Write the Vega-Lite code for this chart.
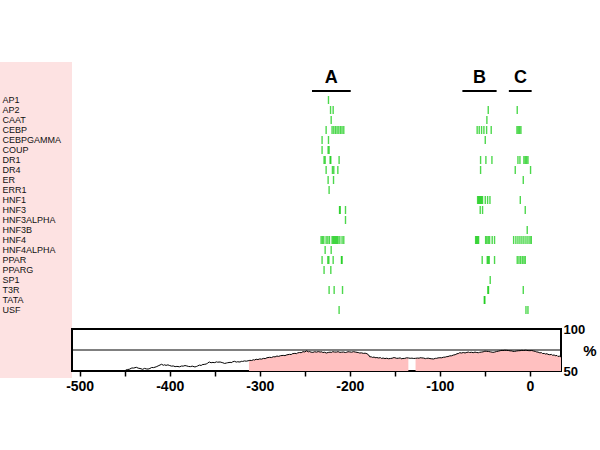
{
  "$schema": "https://vega.github.io/schema/vega-lite/v6.json",
  "padding": {"left": 0, "top": 62, "right": 0, "bottom": 0},
  "background": "white",
  "bounds": "flush",
  "spacing": 0,
  "config": {"font": "Liberation Sans", "view": {"stroke": null}},
  "datasets": {
    "abc": [
      {"label": "A", "xc": -220.5, "x1": -242, "x2": -199},
      {"label": "B", "xc": -56, "x1": -75, "x2": -37},
      {"label": "C", "xc": -10.5, "x1": -23.4, "x2": 1.9}
    ],
    "tfbs": [
      {"tf": "AP1", "pos": -223.7},
      {"tf": "AP2", "pos": -221.4}, {"tf": "AP2", "pos": -218.5}, {"tf": "AP2", "pos": -46.3}, {"tf": "AP2", "pos": -14.1},
      {"tf": "CAAT", "pos": -220.7}, {"tf": "CAAT", "pos": -47.8},
      {"tf": "CEBP", "pos": -226.3}, {"tf": "CEBP", "pos": -219.7}, {"tf": "CEBP", "pos": -217.8}, {"tf": "CEBP", "pos": -215.9}, {"tf": "CEBP", "pos": -214.1}, {"tf": "CEBP", "pos": -212.2}, {"tf": "CEBP", "pos": -210.3}, {"tf": "CEBP", "pos": -208.6}, {"tf": "CEBP", "pos": -206.7}, {"tf": "CEBP", "pos": -58.6}, {"tf": "CEBP", "pos": -56.3}, {"tf": "CEBP", "pos": -53.7}, {"tf": "CEBP", "pos": -51.1}, {"tf": "CEBP", "pos": -48.1}, {"tf": "CEBP", "pos": -43}, {"tf": "CEBP", "pos": -14.4}, {"tf": "CEBP", "pos": -13}, {"tf": "CEBP", "pos": -11.5}, {"tf": "CEBP", "pos": -10},
      {"tf": "CEBPGAMMA", "pos": -230.8}, {"tf": "CEBPGAMMA", "pos": -223.7}, {"tf": "CEBPGAMMA", "pos": -49.6},
      {"tf": "COUP", "pos": -230.8}, {"tf": "COUP", "pos": -224.1}, {"tf": "COUP", "pos": -223},
      {"tf": "DR1", "pos": -228.6}, {"tf": "DR1", "pos": -227.4}, {"tf": "DR1", "pos": -221.9}, {"tf": "DR1", "pos": -221.1}, {"tf": "DR1", "pos": -211.9}, {"tf": "DR1", "pos": -54.8}, {"tf": "DR1", "pos": -48.9}, {"tf": "DR1", "pos": -42.2}, {"tf": "DR1", "pos": -13.3}, {"tf": "DR1", "pos": -11.1}, {"tf": "DR1", "pos": -6.7}, {"tf": "DR1", "pos": -5.2}, {"tf": "DR1", "pos": -3.7}, {"tf": "DR1", "pos": -2.2},
      {"tf": "DR4", "pos": -226.3}, {"tf": "DR4", "pos": -219.3}, {"tf": "DR4", "pos": -217.8}, {"tf": "DR4", "pos": -213.3}, {"tf": "DR4", "pos": -54.8}, {"tf": "DR4", "pos": -16.3}, {"tf": "DR4", "pos": 0.7},
      {"tf": "ER", "pos": -224.1}, {"tf": "ER", "pos": -218.1}, {"tf": "ER", "pos": -7.4},
      {"tf": "ERR1", "pos": -223},
      {"tf": "HNF1", "pos": -58.1}, {"tf": "HNF1", "pos": -57}, {"tf": "HNF1", "pos": -55.9}, {"tf": "HNF1", "pos": -54.8}, {"tf": "HNF1", "pos": -53.7}, {"tf": "HNF1", "pos": -52.6}, {"tf": "HNF1", "pos": -49.6}, {"tf": "HNF1", "pos": -47}, {"tf": "HNF1", "pos": -44.4}, {"tf": "HNF1", "pos": -10.7},
      {"tf": "HNF3", "pos": -211.4}, {"tf": "HNF3", "pos": -210.7}, {"tf": "HNF3", "pos": -204.8}, {"tf": "HNF3", "pos": -55.2}, {"tf": "HNF3", "pos": -52.6}, {"tf": "HNF3", "pos": -5.2},
      {"tf": "HNF3ALPHA", "pos": -204.8},
      {"tf": "HNF3B", "pos": -3},
      {"tf": "HNF4", "pos": -231.9}, {"tf": "HNF4", "pos": -230.4}, {"tf": "HNF4", "pos": -228.9}, {"tf": "HNF4", "pos": -226.3}, {"tf": "HNF4", "pos": -224.4}, {"tf": "HNF4", "pos": -222.6}, {"tf": "HNF4", "pos": -219.7}, {"tf": "HNF4", "pos": -218.5}, {"tf": "HNF4", "pos": -217.4}, {"tf": "HNF4", "pos": -216.3}, {"tf": "HNF4", "pos": -215.2}, {"tf": "HNF4", "pos": -214.1}, {"tf": "HNF4", "pos": -213}, {"tf": "HNF4", "pos": -211.1}, {"tf": "HNF4", "pos": -208.6}, {"tf": "HNF4", "pos": -206.7}, {"tf": "HNF4", "pos": -60.3}, {"tf": "HNF4", "pos": -59.3}, {"tf": "HNF4", "pos": -58.1}, {"tf": "HNF4", "pos": -57}, {"tf": "HNF4", "pos": -49.2}, {"tf": "HNF4", "pos": -47.8}, {"tf": "HNF4", "pos": -46.3}, {"tf": "HNF4", "pos": -44.8}, {"tf": "HNF4", "pos": -41.9}, {"tf": "HNF4", "pos": -39.3}, {"tf": "HNF4", "pos": -18.1}, {"tf": "HNF4", "pos": -15.6}, {"tf": "HNF4", "pos": -13.3}, {"tf": "HNF4", "pos": -11.1}, {"tf": "HNF4", "pos": -8.9}, {"tf": "HNF4", "pos": -6.7}, {"tf": "HNF4", "pos": -4.4}, {"tf": "HNF4", "pos": -2.2}, {"tf": "HNF4", "pos": 0}, {"tf": "HNF4", "pos": 1.5},
      {"tf": "HNF4ALPHA", "pos": -227.4}, {"tf": "HNF4ALPHA", "pos": -220.7},
      {"tf": "PPAR", "pos": -230.8}, {"tf": "PPAR", "pos": -224.4}, {"tf": "PPAR", "pos": -223.3}, {"tf": "PPAR", "pos": -218.5}, {"tf": "PPAR", "pos": -209.3}, {"tf": "PPAR", "pos": -208.6}, {"tf": "PPAR", "pos": -53}, {"tf": "PPAR", "pos": -47.4}, {"tf": "PPAR", "pos": -46.3}, {"tf": "PPAR", "pos": -45.2}, {"tf": "PPAR", "pos": -39.3}, {"tf": "PPAR", "pos": -14.1}, {"tf": "PPAR", "pos": -12.2}, {"tf": "PPAR", "pos": -10.4}, {"tf": "PPAR", "pos": -8.5}, {"tf": "PPAR", "pos": -6.7}, {"tf": "PPAR", "pos": -5.2},
      {"tf": "PPARG", "pos": -228.6}, {"tf": "PPARG", "pos": -221.1},
      {"tf": "SP1", "pos": -44.1},
      {"tf": "T3R", "pos": -223}, {"tf": "T3R", "pos": -217.4}, {"tf": "T3R", "pos": -208.1}, {"tf": "T3R", "pos": -46.7}, {"tf": "T3R", "pos": -46}, {"tf": "T3R", "pos": -7.4},
      {"tf": "TATA", "pos": -50.7}, {"tf": "TATA", "pos": -50},
      {"tf": "USF", "pos": -211.9}, {"tf": "USF", "pos": -4.4}, {"tf": "USF", "pos": -2.2}
    ],
    "cons": [
      {"x": -449, "pct": 51}, {"x": -447, "pct": 51.8}, {"x": -445, "pct": 52}, {"x": -442, "pct": 53.6}, {"x": -440, "pct": 53.5}, {"x": -437, "pct": 54.4}, {"x": -435, "pct": 53.4}, {"x": -433, "pct": 53}, {"x": -430, "pct": 52}, {"x": -428, "pct": 53.1}, {"x": -426, "pct": 52.5}, {"x": -424, "pct": 52.3}, {"x": -422, "pct": 53}, {"x": -420, "pct": 54.2}, {"x": -418, "pct": 54}, {"x": -415, "pct": 55}, {"x": -412, "pct": 56.5}, {"x": -409, "pct": 58}, {"x": -407, "pct": 56.8}, {"x": -406, "pct": 57.4}, {"x": -404, "pct": 56.7}, {"x": -402, "pct": 57.3}, {"x": -400, "pct": 56.5}, {"x": -398, "pct": 55.8}, {"x": -396, "pct": 56}, {"x": -394, "pct": 55.2}, {"x": -392, "pct": 55.5}, {"x": -389, "pct": 55}, {"x": -387, "pct": 55.9}, {"x": -385, "pct": 55.8}, {"x": -383, "pct": 56.5}, {"x": -381, "pct": 56}, {"x": -379, "pct": 55.4}, {"x": -377, "pct": 55.2}, {"x": -375, "pct": 55.8}, {"x": -372, "pct": 54.8}, {"x": -370, "pct": 55.5}, {"x": -369, "pct": 56}, {"x": -367, "pct": 57}, {"x": -365, "pct": 56.6}, {"x": -364, "pct": 57.5}, {"x": -361, "pct": 58}, {"x": -359, "pct": 58.4}, {"x": -358, "pct": 59.5}, {"x": -356, "pct": 60.7}, {"x": -354, "pct": 59.8}, {"x": -353, "pct": 60.2}, {"x": -350, "pct": 60}, {"x": -348, "pct": 60.9}, {"x": -347, "pct": 60.5}, {"x": -344, "pct": 60.7}, {"x": -342, "pct": 60.1}, {"x": -341, "pct": 59.8}, {"x": -339, "pct": 59}, {"x": -337, "pct": 59.5}, {"x": -336, "pct": 59.8}, {"x": -333, "pct": 60.3}, {"x": -331, "pct": 60.1}, {"x": -330, "pct": 61}, {"x": -328, "pct": 61.5}, {"x": -326, "pct": 60.6}, {"x": -325, "pct": 61}, {"x": -322, "pct": 60.7}, {"x": -320, "pct": 61.6}, {"x": -319, "pct": 61.4}, {"x": -317, "pct": 62}, {"x": -315, "pct": 61.7},
      {"x": -312, "pct": 62.4, "seg": "a"}, {"x": -311, "pct": 62.7, "seg": "a"}, {"x": -309, "pct": 62.5, "seg": "a"}, {"x": -307, "pct": 63.4, "seg": "a"}, {"x": -306, "pct": 63, "seg": "a"}, {"x": -304, "pct": 64, "seg": "a"}, {"x": -302, "pct": 63.6, "seg": "a"}, {"x": -300, "pct": 64.4, "seg": "a"}, {"x": -298, "pct": 64.1, "seg": "a"}, {"x": -296, "pct": 65, "seg": "a"}, {"x": -294, "pct": 64.7, "seg": "a"}, {"x": -292, "pct": 65.8, "seg": "a"}, {"x": -289, "pct": 66.3, "seg": "a"}, {"x": -287, "pct": 66, "seg": "a"}, {"x": -285, "pct": 67, "seg": "a"}, {"x": -283, "pct": 66.8, "seg": "a"}, {"x": -281, "pct": 67.8, "seg": "a"}, {"x": -279, "pct": 67.4, "seg": "a"}, {"x": -277, "pct": 68.2, "seg": "a"}, {"x": -274, "pct": 68.6, "seg": "a"}, {"x": -272, "pct": 68.3, "seg": "a"}, {"x": -270, "pct": 69.2, "seg": "a"}, {"x": -267, "pct": 69.8, "seg": "a"}, {"x": -265, "pct": 69.6, "seg": "a"}, {"x": -264, "pct": 70.5, "seg": "a"}, {"x": -261, "pct": 71, "seg": "a"}, {"x": -259, "pct": 70.7, "seg": "a"}, {"x": -258, "pct": 71.5, "seg": "a"}, {"x": -256, "pct": 72, "seg": "a"}, {"x": -254, "pct": 71.8, "seg": "a"}, {"x": -252, "pct": 73, "seg": "a"}, {"x": -250, "pct": 72.7, "seg": "a"}, {"x": -248, "pct": 74, "seg": "a"}, {"x": -246, "pct": 72.8, "seg": "a"}, {"x": -245, "pct": 73.2, "seg": "a"}, {"x": -243, "pct": 72.4, "seg": "a"}, {"x": -241, "pct": 72.2, "seg": "a"}, {"x": -239, "pct": 72.9, "seg": "a"}, {"x": -237, "pct": 72.5, "seg": "a"}, {"x": -235, "pct": 73.1, "seg": "a"}, {"x": -233, "pct": 72.6, "seg": "a"}, {"x": -231, "pct": 72.8, "seg": "a"}, {"x": -230, "pct": 72, "seg": "a"}, {"x": -228, "pct": 72.3, "seg": "a"}, {"x": -226, "pct": 71.4, "seg": "a"}, {"x": -224, "pct": 72.1, "seg": "a"}, {"x": -222, "pct": 72.4, "seg": "a"}, {"x": -220, "pct": 72.2, "seg": "a"}, {"x": -219, "pct": 73, "seg": "a"}, {"x": -217, "pct": 72.6, "seg": "a"}, {"x": -215, "pct": 72.5, "seg": "a"}, {"x": -213, "pct": 73, "seg": "a"}, {"x": -211, "pct": 72.2, "seg": "a"}, {"x": -209, "pct": 72.4, "seg": "a"}, {"x": -207, "pct": 72.6, "seg": "a"}, {"x": -205, "pct": 72, "seg": "a"}, {"x": -204, "pct": 72.2, "seg": "a"}, {"x": -202, "pct": 72.9, "seg": "a"}, {"x": -200, "pct": 72.7, "seg": "a"}, {"x": -198, "pct": 72.4, "seg": "a"}, {"x": -196, "pct": 73, "seg": "a"}, {"x": -194, "pct": 72.6, "seg": "a"}, {"x": -192, "pct": 72.2, "seg": "a"}, {"x": -190, "pct": 71.8, "seg": "a"}, {"x": -189, "pct": 71.4, "seg": "a"}, {"x": -187, "pct": 71.6, "seg": "a"}, {"x": -185, "pct": 71, "seg": "a"}, {"x": -183, "pct": 71.2, "seg": "a"}, {"x": -181, "pct": 70.6, "seg": "a"}, {"x": -179, "pct": 69, "seg": "a"}, {"x": -178, "pct": 67, "seg": "a"}, {"x": -176, "pct": 66.8, "seg": "a"}, {"x": -175, "pct": 66.2, "seg": "a"}, {"x": -173, "pct": 66.6, "seg": "a"}, {"x": -172, "pct": 65.8, "seg": "a"}, {"x": -170, "pct": 66, "seg": "a"}, {"x": -168, "pct": 65.5, "seg": "a"}, {"x": -166, "pct": 65.9, "seg": "a"}, {"x": -165, "pct": 65, "seg": "a"}, {"x": -163, "pct": 65.4, "seg": "a"}, {"x": -161, "pct": 64.8, "seg": "a"}, {"x": -159, "pct": 65.2, "seg": "a"}, {"x": -157, "pct": 64.6, "seg": "a"}, {"x": -155, "pct": 64.9, "seg": "a"}, {"x": -153, "pct": 65.2, "seg": "a"}, {"x": -151, "pct": 66, "seg": "a"}, {"x": -150, "pct": 65.8, "seg": "a"}, {"x": -148, "pct": 65.1, "seg": "a"}, {"x": -146, "pct": 65.2, "seg": "a"}, {"x": -144, "pct": 65.6, "seg": "a"}, {"x": -143, "pct": 64.6, "seg": "a"}, {"x": -141, "pct": 64.9, "seg": "a"}, {"x": -139, "pct": 65, "seg": "a"}, {"x": -137, "pct": 65.7, "seg": "a"}, {"x": -135, "pct": 65.5, "seg": "a"},
      {"x": -133, "pct": 65.1}, {"x": -131, "pct": 65.3}, {"x": -129, "pct": 64.9},
      {"x": -127, "pct": 65.1, "seg": "b"}, {"x": -125, "pct": 65.4, "seg": "b"}, {"x": -123, "pct": 65.2, "seg": "b"}, {"x": -122, "pct": 65.8, "seg": "b"}, {"x": -120, "pct": 65.6, "seg": "b"}, {"x": -118, "pct": 65.4, "seg": "b"}, {"x": -116, "pct": 64.7, "seg": "b"}, {"x": -115, "pct": 65, "seg": "b"}, {"x": -113, "pct": 65.3, "seg": "b"}, {"x": -111, "pct": 64.8, "seg": "b"}, {"x": -109, "pct": 64.5, "seg": "b"}, {"x": -107, "pct": 64.3, "seg": "b"}, {"x": -105, "pct": 65.1, "seg": "b"}, {"x": -104, "pct": 65, "seg": "b"}, {"x": -102, "pct": 65.6, "seg": "b"}, {"x": -100, "pct": 65.8, "seg": "b"}, {"x": -98, "pct": 65.7, "seg": "b"}, {"x": -96, "pct": 66.4, "seg": "b"}, {"x": -94, "pct": 66.5, "seg": "b"}, {"x": -93, "pct": 67, "seg": "b"}, {"x": -91, "pct": 67.2, "seg": "b"}, {"x": -89, "pct": 68, "seg": "b"}, {"x": -87, "pct": 68.1, "seg": "b"}, {"x": -85, "pct": 69, "seg": "b"}, {"x": -83, "pct": 69.4, "seg": "b"}, {"x": -81, "pct": 70.5, "seg": "b"}, {"x": -79, "pct": 71, "seg": "b"}, {"x": -78, "pct": 71.8, "seg": "b"}, {"x": -76, "pct": 71.4, "seg": "b"}, {"x": -74, "pct": 72, "seg": "b"}, {"x": -72, "pct": 71.5, "seg": "b"}, {"x": -70, "pct": 72.2, "seg": "b"}, {"x": -68, "pct": 72.5, "seg": "b"}, {"x": -67, "pct": 72, "seg": "b"}, {"x": -65, "pct": 72.3, "seg": "b"}, {"x": -63, "pct": 71.8, "seg": "b"}, {"x": -61, "pct": 72.5, "seg": "b"}, {"x": -59, "pct": 72, "seg": "b"}, {"x": -57, "pct": 71.8, "seg": "b"}, {"x": -56, "pct": 72.2, "seg": "b"}, {"x": -54, "pct": 72.5, "seg": "b"}, {"x": -52, "pct": 72.8, "seg": "b"}, {"x": -50, "pct": 73.6, "seg": "b"}, {"x": -48, "pct": 73.4, "seg": "b"}, {"x": -46, "pct": 73.2, "seg": "b"}, {"x": -44, "pct": 72.8, "seg": "b"}, {"x": -42, "pct": 72.4, "seg": "b"}, {"x": -41, "pct": 72.2, "seg": "b"}, {"x": -39, "pct": 72.6, "seg": "b"}, {"x": -37, "pct": 73.2, "seg": "b"}, {"x": -35, "pct": 73.6, "seg": "b"}, {"x": -33, "pct": 74.2, "seg": "b"}, {"x": -31, "pct": 74.6, "seg": "b"}, {"x": -30, "pct": 74.4, "seg": "b"}, {"x": -28, "pct": 74.7, "seg": "b"}, {"x": -26, "pct": 74.6, "seg": "b"}, {"x": -24, "pct": 74.4, "seg": "b"}, {"x": -22, "pct": 74, "seg": "b"}, {"x": -20, "pct": 73.9, "seg": "b"}, {"x": -19, "pct": 73.4, "seg": "b"}, {"x": -17, "pct": 73.3, "seg": "b"}, {"x": -15, "pct": 73.8, "seg": "b"}, {"x": -13, "pct": 74.1, "seg": "b"}, {"x": -11, "pct": 74.2, "seg": "b"}, {"x": -9, "pct": 74.6, "seg": "b"}, {"x": -7, "pct": 74.4, "seg": "b"}, {"x": -5, "pct": 74.7, "seg": "b"}, {"x": -4, "pct": 74.6, "seg": "b"}, {"x": -2, "pct": 74.3, "seg": "b"}, {"x": 0, "pct": 74.2, "seg": "b"}, {"x": 2, "pct": 74.4, "seg": "b"}, {"x": 4, "pct": 73.8, "seg": "b"}, {"x": 6, "pct": 73.3, "seg": "b"}, {"x": 7, "pct": 72.8, "seg": "b"}, {"x": 9, "pct": 72.5, "seg": "b"}, {"x": 11, "pct": 71.6, "seg": "b"}, {"x": 13, "pct": 71.8, "seg": "b"}, {"x": 14, "pct": 70.8, "seg": "b"}, {"x": 16, "pct": 70.9, "seg": "b"}, {"x": 17, "pct": 70.2, "seg": "b"}, {"x": 19, "pct": 70.6, "seg": "b"}, {"x": 20, "pct": 69.8, "seg": "b"}, {"x": 22, "pct": 69.4, "seg": "b"}, {"x": 24, "pct": 69.7, "seg": "b"}, {"x": 25, "pct": 68.8, "seg": "b"}, {"x": 27, "pct": 69, "seg": "b"}, {"x": 28, "pct": 68.2, "seg": "b"}, {"x": 30, "pct": 68.5, "seg": "b"}, {"x": 31, "pct": 67.4, "seg": "b"}, {"x": 33, "pct": 67.6, "seg": "b"}, {"x": 34.5, "pct": 66.7, "seg": "b"}
    ]
  },
  "hconcat": [
    {
      "width": 72,
      "height": 316,
      "view": {"fill": "#fde2e2", "stroke": null},
      "data": {"values": [{}]},
      "mark": {"type": "rect", "opacity": 0}
    },
    {
      "bounds": "flush",
      "spacing": 0,
      "vconcat": [
        {
          "width": 489,
          "height": 33,
          "data": {"name": "abc"},
          "layer": [
            {
              "mark": {"type": "rule", "strokeWidth": 2, "color": "black"},
              "encoding": {
                "x": {"field": "x1", "type": "quantitative", "scale": {"domain": [-508.5, 34.5], "nice": false, "zero": false}, "axis": null},
                "x2": {"field": "x2"},
                "y": {"datum": 4, "type": "quantitative", "scale": {"domain": [0, 33], "nice": false}, "axis": null}
              }
            },
            {
              "mark": {"type": "text", "fontSize": 18, "fontWeight": "bold", "baseline": "alphabetic", "align": "center", "color": "black"},
              "encoding": {
                "x": {"field": "xc", "type": "quantitative"},
                "y": {"datum": 12.3, "type": "quantitative"},
                "text": {"field": "label"}
              }
            }
          ]
        },
        {
          "bounds": "flush",
          "spacing": 14,
          "vconcat": [
            {
              "width": 489,
              "height": 220,
              "data": {"name": "tfbs"},
              "mark": {"type": "tick", "thickness": 1.4, "size": 8, "color": "#00c800"},
              "encoding": {
                "x": {"field": "pos", "type": "quantitative", "scale": {"domain": [-508.5, 34.5], "nice": false, "zero": false}, "axis": null},
                "y": {
                  "field": "tf", "type": "nominal",
                  "sort": ["AP1", "AP2", "CAAT", "CEBP", "CEBPGAMMA", "COUP", "DR1", "DR4", "ER", "ERR1", "HNF1", "HNF3", "HNF3ALPHA", "HNF3B", "HNF4", "HNF4ALPHA", "PPAR", "PPARG", "SP1", "T3R", "TATA", "USF"],
                  "scale": {"domain": ["AP1", "AP2", "CAAT", "CEBP", "CEBPGAMMA", "COUP", "DR1", "DR4", "ER", "ERR1", "HNF1", "HNF3", "HNF3ALPHA", "HNF3B", "HNF4", "HNF4ALPHA", "PPAR", "PPARG", "SP1", "T3R", "TATA", "USF"], "paddingInner": 0, "paddingOuter": 0},
                  "axis": {"title": null, "domain": false, "ticks": false, "labelAlign": "left", "labelPadding": 70, "labelFontSize": 9, "labelColor": "#111111", "labelFont": "Liberation Sans"}
                }
              }
            },
            {
              "width": 489,
              "height": 42,
              "data": {"name": "cons"},
              "view": {"stroke": "black", "strokeWidth": 2},
              "layer": [
                {
                  "transform": [{"filter": "datum.seg != null"}],
                  "mark": {"type": "area", "color": "#ffc0c0", "opacity": 1},
                  "encoding": {
                    "x": {
                      "field": "x", "type": "quantitative",
                      "scale": {"domain": [-508.5, 34.5], "nice": false, "zero": false},
                      "axis": {
                        "values": [-500, -450, -400, -350, -300, -250, -200, -150, -100, -50, 0],
                        "labelExpr": "datum.value % 100 === 0 ? '' + datum.value : ''",
                        "labelOverlap": false,
                        "title": null, "grid": false, "domain": false,
                        "tickColor": "black", "tickSize": 5, "tickWidth": 1.5,
                        "labelFontSize": 14, "labelFontWeight": "bold", "labelColor": "black", "labelPadding": 3
                      }
                    },
                    "y": {
                      "field": "pct", "type": "quantitative", "stack": null,
                      "scale": {"domain": [50, 100], "nice": false, "zero": false},
                      "axis": {
                        "orient": "right", "values": [50, 100], "title": "%", "titleAngle": 0,
                        "titleFontSize": 15, "titleFontWeight": "bold", "titleColor": "black",
                        "titleAlign": "left", "titleBaseline": "middle", "titlePadding": -2,
                        "domain": false, "ticks": false, "grid": false,
                        "labelFontSize": 13, "labelFontWeight": "bold", "labelColor": "black",
                        "labelPadding": 2, "labelBaseline": "middle"
                      }
                    },
                    "y2": {"datum": 50},
                    "detail": {"field": "seg"}
                  }
                },
                {
                  "data": {"values": [{}]},
                  "mark": {"type": "rule", "color": "black", "strokeWidth": 1},
                  "encoding": {"y": {"datum": 75, "type": "quantitative"}}
                },
                {
                  "mark": {"type": "line", "color": "black", "strokeWidth": 1},
                  "encoding": {
                    "x": {"field": "x", "type": "quantitative"},
                    "y": {"field": "pct", "type": "quantitative"}
                  }
                }
              ]
            }
          ]
        }
      ]
    }
  ]
}
